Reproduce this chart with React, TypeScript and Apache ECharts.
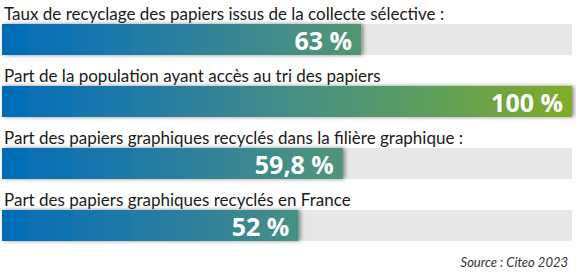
import React, { useEffect, useRef } from "react";
import * as echarts from "echarts";

const categories = [
  "Taux de recyclage des papiers issus de la collecte sélective :",
  "Part de la population ayant accès au tri des papiers",
  "Part des papiers graphiques recyclés dans la filière graphique :",
  "Part des papiers graphiques recyclés en France",
];
const values = [63, 100, 59.8, 52];
const valueLabels = ["63 %", "100 %", "59,8 %", "52 %"];
const sourceText = "Source : Citeo 2023";

export default function App() {
  const ref = useRef<HTMLDivElement>(null);
  useEffect(() => {
    if (!ref.current) return;
    const chart = echarts.init(ref.current, null, { renderer: "svg" });
    const gradient = new echarts.graphic.LinearGradient(
      2,
      0,
      572,
      0,
      [
        { offset: 0, color: "#006cb9" },
        { offset: 0.3, color: "#2a7ea0" },
        { offset: 0.55, color: "#4a9280" },
        { offset: 0.75, color: "#5e9e5c" },
        { offset: 1, color: "#80ad28" },
      ],
      true
    );
    chart.setOption({
      animation: false,
      title: {
        text: sourceText,
        right: 3,
        bottom: 1,
        textStyle: {
          fontFamily: "Lato",
          fontStyle: "italic",
          fontWeight: "normal",
          fontSize: 13,
          color: "#333",
        },
      },
      grid: { left: 2, right: 4, top: 8.5, height: 248, containLabel: false },
      xAxis: {
        type: "value",
        min: 0,
        max: 100,
        show: false,
      },
      yAxis: {
        type: "category",
        inverse: true,
        data: categories,
        axisLine: { show: false },
        axisTick: { show: false },
        axisLabel: {
          inside: true,
          margin: 2,
          align: "left",
          verticalAlign: "bottom",
          padding: [0, 0, 18, 0],
          fontFamily: "Lato",
          fontSize: 17,
          color: "#1a1a1a",
        },
        z: 10,
      },
      series: [
        {
          type: "bar",
          data: values,
          barWidth: 31,
          showBackground: true,
          backgroundStyle: { color: "#e7e7e7" },
          itemStyle: {
            color: gradient,
            shadowColor: "rgba(0,0,0,0.45)",
            shadowBlur: 4,
            shadowOffsetX: 2,
          },
          label: {
            show: true,
            position: "insideRight",
            distance: 9,
            formatter: (p: any) => valueLabels[p.dataIndex],
            fontFamily: "Open Sans",
            fontWeight: "bold",
            fontSize: 25,
            color: "#ffffff",
          },
        },
      ],
    });
    return () => chart.dispose();
  }, []);
  return (
    <div
      ref={ref}
      style={{ position: "fixed", left: 0, top: 0, width: 576, height: 274, background: "#fff" }}
    />
  );
}
